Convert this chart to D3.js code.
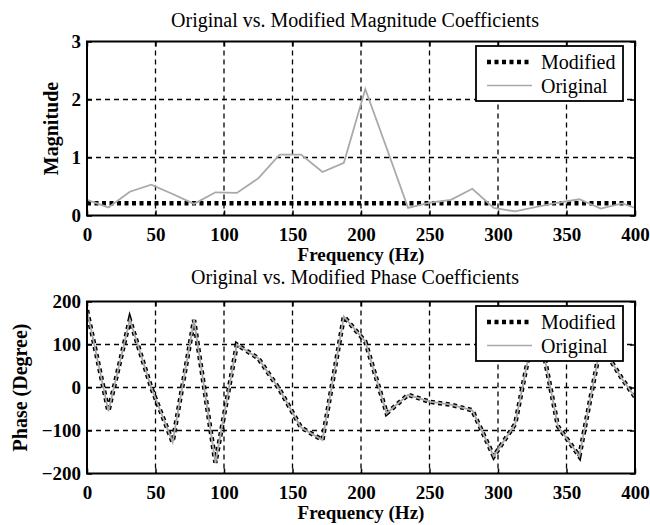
<!DOCTYPE html>
<html>
<head>
<meta charset="utf-8">
<script src="https://cdn.jsdelivr.net/npm/d3@7"></script>
<style>
  body { margin: 0; background: #fff; }
  text { font-family: "Liberation Serif", "Times New Roman", serif; fill: #000; }
  .tick text { font-size: 19px; font-weight: bold; }
  .grid { stroke: #000; stroke-width: 1.3; stroke-dasharray: 5,4; }
</style>
</head>
<body>
<script>
// frequency bins (Hz)
var freq = [0, 15.625, 31.25, 46.875, 62.5, 78.125, 93.75, 109.375, 125, 140.625,
  156.25, 171.875, 187.5, 203.125, 218.75, 234.375, 250, 265.625, 281.25, 296.875,
  312.5, 328.125, 343.75, 359.375, 375, 390.625, 406.25];

var magOriginal = [0.27, 0.14, 0.41, 0.53, 0.37, 0.20, 0.40, 0.39, 0.64, 1.05,
  1.05, 0.75, 0.91, 2.18, 1.16, 0.13, 0.22, 0.27, 0.46, 0.13,
  0.07, 0.15, 0.22, 0.28, 0.12, 0.21, 0.08];
var magModified = [0.21, 0.21, 0.21, 0.21, 0.21, 0.21, 0.21, 0.21, 0.21, 0.21,
  0.21, 0.21, 0.21, 0.21, 0.21, 0.21, 0.21, 0.21, 0.21, 0.21,
  0.21, 0.21, 0.21, 0.21, 0.21, 0.21, 0.21];

var phaseOriginal = [180, -55, 158, 0, -127, 157, -175, 100, 68, -5,
  -93, -122, 165, 107, -60, -17, -33, -40, -53, -160,
  -85, 165, -90, -160, 100, 20, -50];
var phaseModified = [180, -55, 158, 0, -127, 157, -175, 100, 68, -5,
  -93, -122, 165, 107, -60, -17, -33, -40, -53, -160,
  -85, 165, -90, -160, 100, 20, -50];

var xTicks = [0, 50, 100, 150, 200, 250, 300, 350, 400];
var magTicks = [0, 1, 2, 3];
var phaseTicks = [-200, -100, 0, 100, 200];

var w = 650, h = 525;
var left = 87, right = 635;

var svg = d3.select("body").append("svg")
  .attr("width", w)
  .attr("height", h);

function drawPanel(opts) {
  var x = d3.scaleLinear().domain([0, 400]).range([left, right]);
  var y = d3.scaleLinear().domain(opts.yDomain).range([opts.bottom, opts.top]);
  var g = svg.append("g");

  g.append("clipPath").attr("id", opts.id)
    .append("rect")
    .attr("x", left).attr("y", opts.top)
    .attr("width", right - left).attr("height", opts.bottom - opts.top);

  // grid
  g.selectAll(".vgrid")
    .data(xTicks.slice(1, -1))
    .enter().append("line")
    .attr("class", "grid")
    .attr("x1", function(d) { return x(d); })
    .attr("x2", function(d) { return x(d); })
    .attr("y1", opts.top).attr("y2", opts.bottom);
  g.selectAll(".hgrid")
    .data(opts.yTicks.slice(1, -1))
    .enter().append("line")
    .attr("class", "grid")
    .attr("x1", left).attr("x2", right)
    .attr("y1", function(d) { return y(d); })
    .attr("y2", function(d) { return y(d); });

  var line = d3.line()
    .x(function(d, i) { return x(freq[i]); })
    .y(function(d) { return y(d); });

  var lines = g.append("g").attr("clip-path", "url(#" + opts.id + ")");
  lines.append("path")
    .datum(opts.modified)
    .attr("d", line)
    .attr("fill", "none")
    .attr("stroke", "#000")
    .attr("stroke-width", 4.5)
    .attr("stroke-dasharray", "4,3.5");
  lines.append("path")
    .datum(opts.original)
    .attr("d", line)
    .attr("fill", "none")
    .attr("stroke", "#a9a9a9")
    .attr("stroke-width", 1.8);

  // axes (ticks inside)
  g.append("g")
    .attr("transform", "translate(0," + opts.bottom + ")")
    .call(d3.axisBottom(x).tickValues(xTicks).tickSize(-5).tickPadding(12).tickFormat(d3.format("d")))
    .call(function(a) { a.select(".domain").remove(); });
  g.append("g")
    .attr("transform", "translate(0," + opts.top + ")")
    .call(d3.axisTop(x).tickValues(xTicks).tickSize(-5).tickFormat(""))
    .call(function(a) { a.select(".domain").remove(); });
  g.append("g")
    .attr("transform", "translate(" + left + ",0)")
    .call(d3.axisLeft(y).tickValues(opts.yTicks).tickSize(-5).tickPadding(6).tickFormat(d3.format("d")))
    .call(function(a) { a.select(".domain").remove(); });
  g.append("g")
    .attr("transform", "translate(" + right + ",0)")
    .call(d3.axisRight(y).tickValues(opts.yTicks).tickSize(-5).tickFormat(""))
    .call(function(a) { a.select(".domain").remove(); });
  g.selectAll(".tick line").attr("stroke", "#000").attr("stroke-width", 1.5);

  g.append("rect")
    .attr("x", left).attr("y", opts.top)
    .attr("width", right - left).attr("height", opts.bottom - opts.top)
    .attr("fill", "none")
    .attr("stroke", "#000")
    .attr("stroke-width", 2);

  // title and labels
  g.append("text")
    .attr("x", 355).attr("y", opts.top - opts.titleGap)
    .attr("text-anchor", "middle")
    .style("font-size", "20px")
    .text(opts.title);
  g.append("text")
    .attr("x", (left + right) / 2).attr("y", opts.bottom + 45)
    .attr("text-anchor", "middle")
    .style("font-size", "19px").style("font-weight", "bold")
    .text("Frequency (Hz)");
  g.append("text")
    .attr("transform", "translate(" + opts.ylabelX + "," + ((opts.top + opts.bottom) / 2) + ") rotate(-90)")
    .attr("text-anchor", "middle")
    .style("font-size", "20px").style("font-weight", "bold")
    .text(opts.ylabel);

  // legend
  var lg = g.append("g").attr("transform", "translate(476," + (opts.top + 4.5) + ")");
  lg.append("rect")
    .attr("width", 147).attr("height", 55)
    .attr("fill", "#fff").attr("stroke", "#000").attr("stroke-width", 1.8);
  lg.append("line")
    .attr("x1", 11).attr("x2", 56).attr("y1", 16).attr("y2", 16)
    .attr("stroke", "#000").attr("stroke-width", 4.5).attr("stroke-dasharray", "4,3.5");
  lg.append("line")
    .attr("x1", 11).attr("x2", 56).attr("y1", 39.5).attr("y2", 39.5)
    .attr("stroke", "#a9a9a9").attr("stroke-width", 1.5);
  lg.append("text").attr("x", 65).attr("y", 23).style("font-size", "20px").text("Modified");
  lg.append("text").attr("x", 65).attr("y", 46.5).style("font-size", "20px").text("Original");
}

drawPanel({
  id: "clipMag", top: 41.5, bottom: 215.5, yDomain: [0, 3], yTicks: magTicks,
  original: magOriginal, modified: magModified,
  title: "Original vs. Modified Magnitude Coefficients", titleGap: 15,
  ylabel: "Magnitude", ylabelX: 58
});

drawPanel({
  id: "clipPhase", top: 301.5, bottom: 473.5, yDomain: [-200, 200], yTicks: phaseTicks,
  original: phaseOriginal, modified: phaseModified,
  title: "Original vs. Modified Phase Coefficients", titleGap: 18,
  ylabel: "Phase (Degree)", ylabelX: 27
});
</script>
</body>
</html>
